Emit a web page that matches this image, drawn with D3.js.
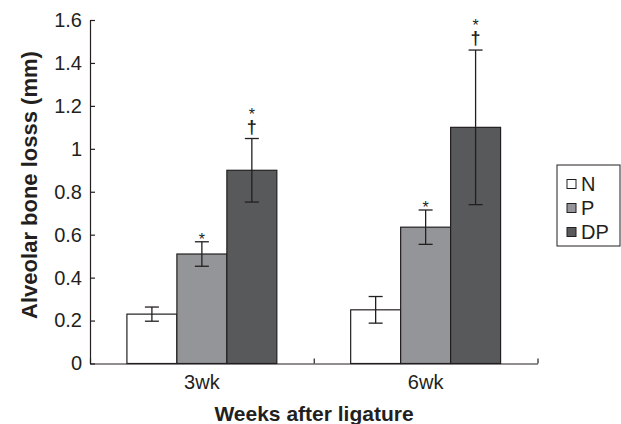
<!DOCTYPE html>
<html>
<head>
<meta charset="utf-8">
<script src="https://cdn.jsdelivr.net/npm/d3@7"></script>
<style>
  body { margin: 0; background: #fff; }
  text { font-family: "Liberation Sans", Arial, sans-serif; fill: #231f20; }
</style>
</head>
<body>
<div id="chart"></div>
<script>
// data
var weeks = ["3wk", "6wk"];
var groups = ["N", "P", "DP"];
var meanN = [0.23, 0.25];
var meanP = [0.51, 0.635];
var meanDP = [0.90, 1.10];
var errN = [0.033, 0.062];
var errP = [0.057, 0.08];
var errDP = [0.148, 0.36];
// significance marks above each bar (bottom to top)
var marksN = [[], []];
var marksP = [["*"], ["*"]];
var marksDP = [["\u2020", "*"], ["\u2020", "*"]];
var yTicks = [0, 0.2, 0.4, 0.6, 0.8, 1, 1.2, 1.4, 1.6];

var colors = { N: "#ffffff", P: "#939598", DP: "#58595b" };
var means = { N: meanN, P: meanP, DP: meanDP };
var errs = { N: errN, P: errP, DP: errDP };
var marks = { N: marksN, P: marksP, DP: marksDP };

var width = 621, height = 424;
var margin = { top: 20, right: 83.5, bottom: 60.5, left: 90 };
var plotW = width - margin.left - margin.right;
var plotH = height - margin.top - margin.bottom;

var svg = d3.select("#chart")
  .append("svg")
  .attr("width", width)
  .attr("height", height);

var g = svg.append("g")
  .attr("transform", "translate(" + margin.left + "," + margin.top + ")");

var y = d3.scaleLinear().domain([0, 1.6]).range([plotH, 0]);

var x0 = d3.scaleBand()
  .domain(weeks)
  .range([0, plotW])
  .paddingInner(0.33)
  .paddingOuter(0.165);

var x1 = d3.scaleBand()
  .domain(groups)
  .range([0, x0.bandwidth()]);

// flatten to one row per bar
var bars = [];
weeks.forEach(function(w, i) {
  groups.forEach(function(s) {
    bars.push({ week: w, group: s, value: means[s][i], err: errs[s][i], marks: marks[s][i] });
  });
});

// bars
g.selectAll("rect.bar")
  .data(bars)
  .enter().append("rect")
  .attr("class", "bar")
  .attr("x", function(d) { return x0(d.week) + x1(d.group); })
  .attr("y", function(d) { return y(d.value); })
  .attr("width", x1.bandwidth())
  .attr("height", function(d) { return plotH - y(d.value); })
  .attr("fill", function(d) { return colors[d.group]; })
  .style("stroke", "#231f20")
  .style("stroke-width", 1.2);

// error bars
var capW = 7;
var eb = g.selectAll("g.err")
  .data(bars)
  .enter().append("g")
  .attr("class", "err")
  .attr("transform", function(d) { return "translate(" + (x0(d.week) + x1(d.group) + x1.bandwidth() / 2) + ",0)"; });

var ebLines = eb.append("g")
  .style("stroke", "#231f20")
  .style("stroke-width", 1.3);
ebLines.append("line")
  .attr("y1", function(d) { return y(d.value - d.err); })
  .attr("y2", function(d) { return y(d.value + d.err); });
ebLines.append("line")
  .attr("x1", -capW).attr("x2", capW)
  .attr("y1", function(d) { return y(d.value + d.err); })
  .attr("y2", function(d) { return y(d.value + d.err); });
ebLines.append("line")
  .attr("x1", -capW).attr("x2", capW)
  .attr("y1", function(d) { return y(d.value - d.err); })
  .attr("y2", function(d) { return y(d.value - d.err); });

// significance symbols stacked above the upper cap
eb.each(function(d) {
  var top = y(d.value + d.err);
  var sel = d3.select(this);
  var off = 0;
  d.marks.forEach(function(m) {
    if (m === "*") {
      sel.append("text")
        .attr("y", top - off + 3)
        .attr("text-anchor", "middle")
        .style("font-size", "16px")
        .text(m);
      off += 12;
    } else {
      sel.append("text")
        .attr("y", top - off - 6)
        .attr("text-anchor", "middle")
        .style("font-size", "18px")
        .style("font-weight", "bold")
        .text(m);
      off += 22;
    }
  });
});

// y axis, ticks pointing inwards
var yAxis = g.append("g")
  .attr("class", "y-axis")
  .call(d3.axisLeft(y).tickValues(yTicks).tickSizeInner(-5).tickSizeOuter(0).tickPadding(8)
    .tickFormat(function(d) { return String(+d.toFixed(1)); }));
yAxis.selectAll("text").style("font-size", "20px").attr("fill", "#231f20");
yAxis.selectAll("line, path").attr("stroke", "#231f20").attr("stroke-width", 1.2);

// x axis: category labels, then the boundary ticks between them
var xAxis = g.append("g")
  .attr("class", "x-axis")
  .attr("transform", "translate(0," + plotH + ")")
  .call(d3.axisBottom(x0).tickSize(0).tickPadding(11));
xAxis.select(".domain").remove();
xAxis.selectAll("text").style("font-size", "20px").attr("fill", "#231f20");

var xb = d3.scaleLinear().domain([0, weeks.length]).range([0, plotW]);
var xTicks = g.append("g")
  .attr("transform", "translate(0," + plotH + ")")
  .call(d3.axisBottom(xb).tickValues(d3.range(weeks.length + 1)).tickSizeInner(-5).tickSizeOuter(0).tickFormat(""));
xTicks.selectAll("line, path").attr("stroke", "#231f20").attr("stroke-width", 1.2);

// axis titles
svg.append("text")
  .attr("transform", "translate(37,185) rotate(-90)")
  .attr("text-anchor", "middle")
  .style("font-size", "22px")
  .style("font-weight", "bold")
  .text("Alveolar bone losss (mm)");

svg.append("text")
  .attr("x", 314)
  .attr("y", 421)
  .attr("text-anchor", "middle")
  .style("font-size", "21px")
  .style("font-weight", "bold")
  .text("Weeks after ligature");

// legend
var legend = svg.append("g").attr("transform", "translate(557,165)");
legend.append("rect")
  .attr("width", 63).attr("height", 81)
  .attr("fill", "#fff")
  .style("stroke", "#231f20")
  .style("stroke-width", 1);
var li = legend.selectAll("g.item")
  .data(groups)
  .enter().append("g")
  .attr("class", "item")
  .attr("transform", function(d, i) { return "translate(10," + (14.5 + i * 24) + ")"; });
li.append("rect")
  .attr("width", 9).attr("height", 9)
  .attr("fill", function(d) { return colors[d]; })
  .style("stroke", "#231f20")
  .style("stroke-width", 1);
li.append("text")
  .attr("x", 14)
  .attr("y", 11.5)
  .style("font-size", "20px")
  .text(function(d) { return d; });
</script>
</body>
</html>
